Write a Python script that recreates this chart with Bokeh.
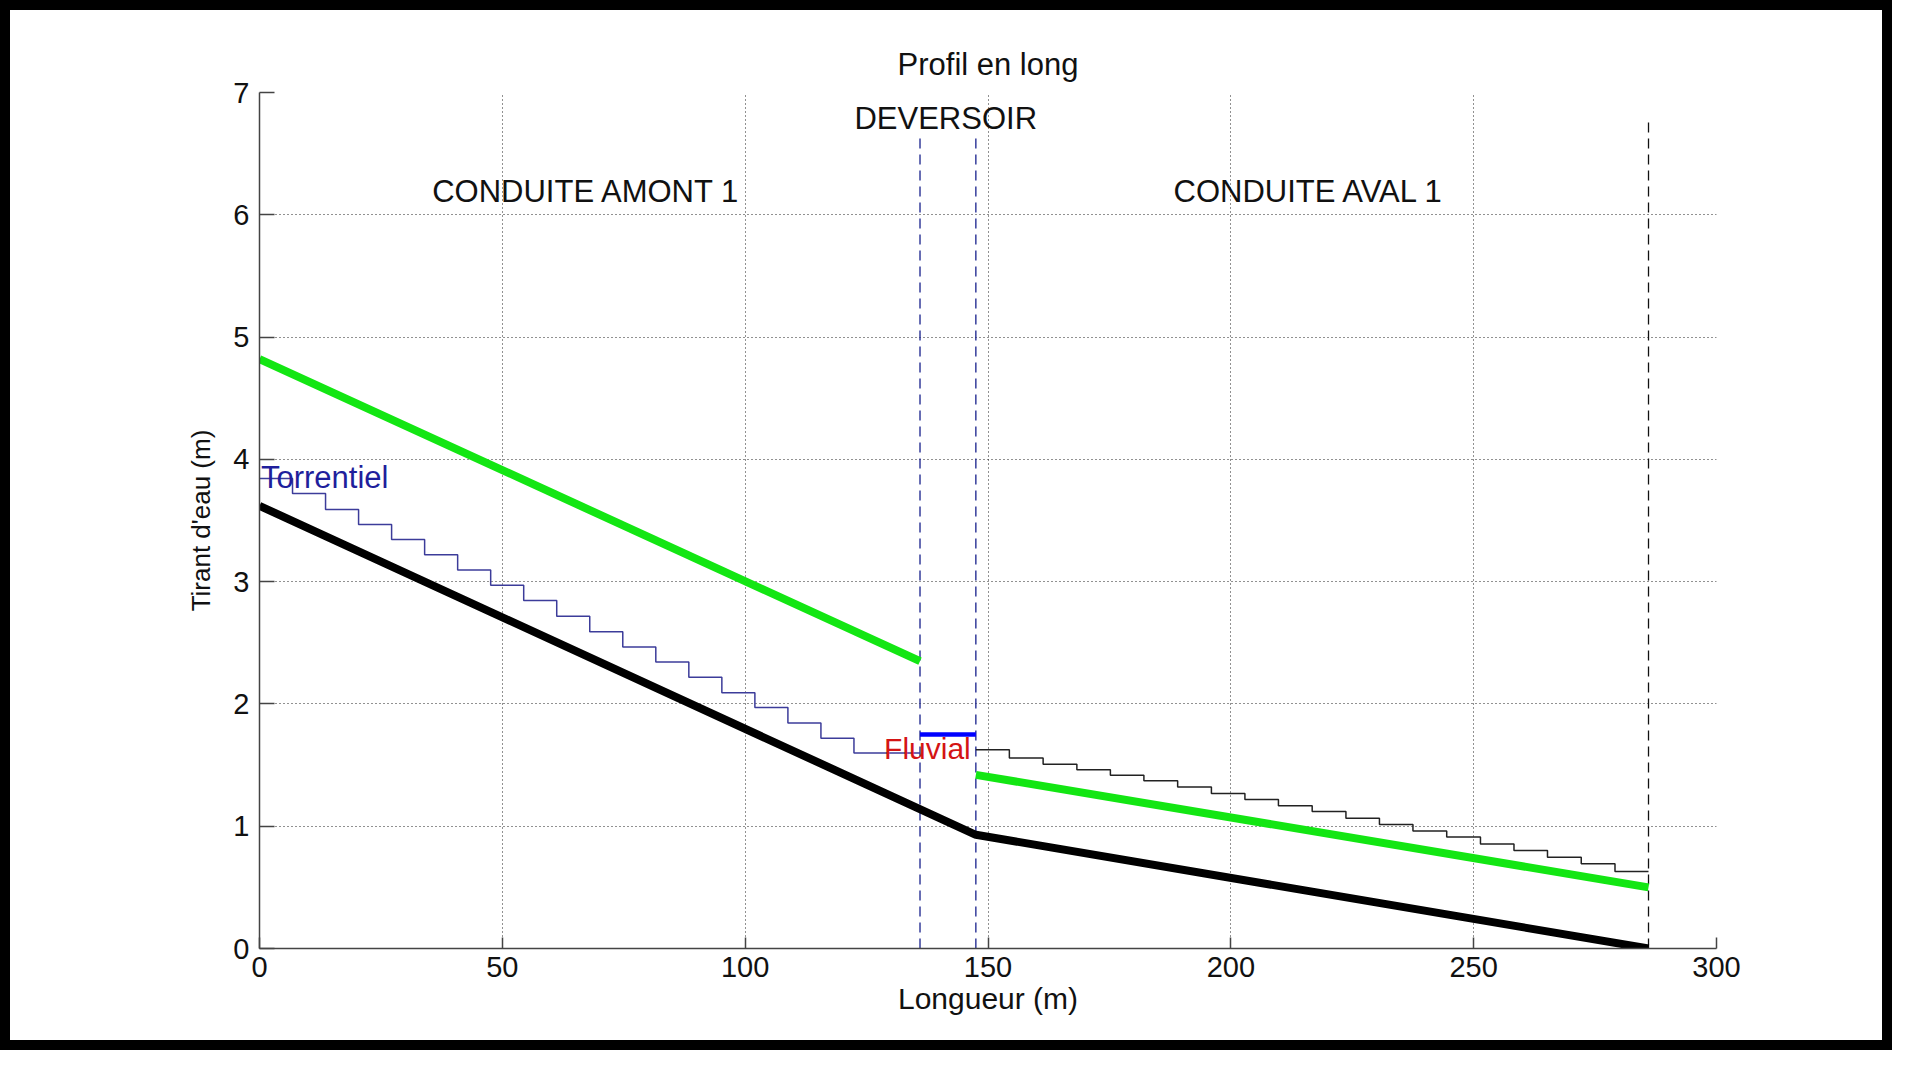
from bokeh.plotting import figure
from bokeh.models import Range1d, FixedTicker, Label
from bokeh.embed import file_html
from bokeh.resources import INLINE

# ---- data ----
bed_x = [0, 147.5, 286]
bed_y = [3.62, 0.93, 0.0]

green_up_x = [0, 136]
green_up_y = [4.82, 2.35]
green_dn_x = [147.5, 286]
green_dn_y = [1.42, 0.50]

torr_edges = [0, 6.8, 13.6, 20.4, 27.2, 34.0, 40.8, 47.6, 54.4, 61.2, 68.0,
              74.8, 81.6, 88.4, 95.2, 102.0, 108.8, 115.6, 122.4, 129.2, 136.0]
torr_levels = [3.843, 3.72, 3.59, 3.467, 3.344, 3.219, 3.096, 2.97, 2.845, 2.717,
               2.59, 2.466, 2.343, 2.218, 2.092, 1.97, 1.844, 1.72, 1.598, 1.598]

fluv_edges = [147.5, 154.4, 161.35, 168.3, 175.2, 182.1, 189.05, 196.0, 202.9, 209.8,
              216.75, 223.7, 230.6, 237.5, 244.45, 251.4, 258.3, 265.2, 272.15, 279.1, 286.0]
fluv_levels = [1.626, 1.557, 1.506, 1.462, 1.416, 1.372, 1.32, 1.268, 1.219, 1.167,
               1.121, 1.066, 1.015, 0.96, 0.911, 0.854, 0.802, 0.747, 0.693, 0.63]

weir_x = [136, 147.5]
weir_y = [1.75, 1.75]

blue_bound_x = [136, 147.5]
blue_bound_top = [6.65, 6.65]
end_bound_x = [286]
end_bound_top = [6.8]

x_ticks = [0, 50, 100, 150, 200, 250, 300]
y_ticks = [0, 1, 2, 3, 4, 5, 6, 7]

FONT = "Liberation Sans"

p = figure(width=1892, height=1050, output_backend="svg", toolbar_location=None,
           x_range=Range1d(0, 300), y_range=Range1d(0, 7),
           min_border_left=249, min_border_right=186, min_border_top=82,
           min_border_bottom=112)
p.styles = {"border": "10px solid black"}
p.background_fill_color = "white"
p.border_fill_color = "white"
p.outline_line_color = None

p.title.text = "Profil en long"
p.title.align = "center"
p.title.text_font = FONT
p.title.text_font_size = "31px"
p.title.text_font_style = "normal"
p.title.text_color = "#111111"
p.title.standoff = 21

for ax in (p.xaxis, p.yaxis):
    ax.axis_line_color = "#444444"
    ax.axis_line_width = 1.5
    ax.major_tick_line_color = "#444444"
    ax.major_tick_line_width = 1.5
    ax.major_tick_out = 0
    ax.minor_tick_line_color = None
    ax.major_label_text_font = FONT
    ax.major_label_text_font_size = "29px"
    ax.major_label_text_color = "#111111"
    ax.axis_label_text_font = FONT
    ax.axis_label_text_font_style = "normal"
    ax.axis_label_text_color = "#111111"

p.xaxis.axis_label_text_font_size = "30px"
p.yaxis.axis_label_text_font_size = "26px"
p.xaxis.ticker = FixedTicker(ticks=x_ticks)
p.yaxis.ticker = FixedTicker(ticks=y_ticks)
p.xaxis.major_tick_in = 11
p.yaxis.major_tick_in = 15
p.xaxis.major_label_standoff = 8
p.yaxis.major_label_standoff = 10
p.xaxis.axis_label = "Longueur (m)"
p.yaxis.axis_label = "Tirant d'eau (m)"
p.xaxis.axis_label_standoff = 2
p.yaxis.axis_label_standoff = 14

for g in (p.xgrid, p.ygrid):
    g.grid_line_color = "#222222"
    g.grid_line_dash = "1 3"
    g.grid_line_width = 1
p.xgrid.ticker = FixedTicker(ticks=x_ticks)
p.ygrid.ticker = FixedTicker(ticks=y_ticks)

# boundaries
p.segment(x0=blue_bound_x, y0=[0] * len(blue_bound_x), x1=blue_bound_x, y1=blue_bound_top,
          line_color="#17208c", line_width=1.3, line_dash="10 6")
p.segment(x0=end_bound_x, y0=[0] * len(end_bound_x), x1=end_bound_x, y1=end_bound_top,
          line_color="#111111", line_width=1.3, line_dash="10 6")

# green lines
p.line(green_up_x, green_up_y, line_color="#13e613", line_width=8)
p.line(green_dn_x, green_dn_y, line_color="#13e613", line_width=8)

# staircases
p.step(torr_edges, torr_levels + [torr_levels[-1]], mode="after",
       line_color="#3c3c9a", line_width=1.5)
p.step(fluv_edges, fluv_levels + [fluv_levels[-1]], mode="after",
       line_color="#222222", line_width=1.5)

# bed
p.line(bed_x, bed_y, line_color="black", line_width=8)

# weir level
p.line(weir_x, weir_y, line_color="#0000ff", line_width=4.5)

# annotations
def lab(x, y, t, color="#111111", align="center", size="31px"):
    p.add_layout(Label(x=x, y=y, text=t, text_align=align, text_baseline="middle",
                       text_font=FONT, text_font_size=size, text_color=color))

lab(141.3, 6.79, "DEVERSOIR")
lab(67.3, 6.19, "CONDUITE AMONT 1")
lab(216.1, 6.19, "CONDUITE AVAL 1")
lab(0.3, 3.85, "Torrentiel", color="#1f1f9c", align="left", size="31px")
lab(128.6, 1.637, "Fluvial", color="#d41414", align="left", size="30px")

open("out.html", "w").write(file_html(p, INLINE))
